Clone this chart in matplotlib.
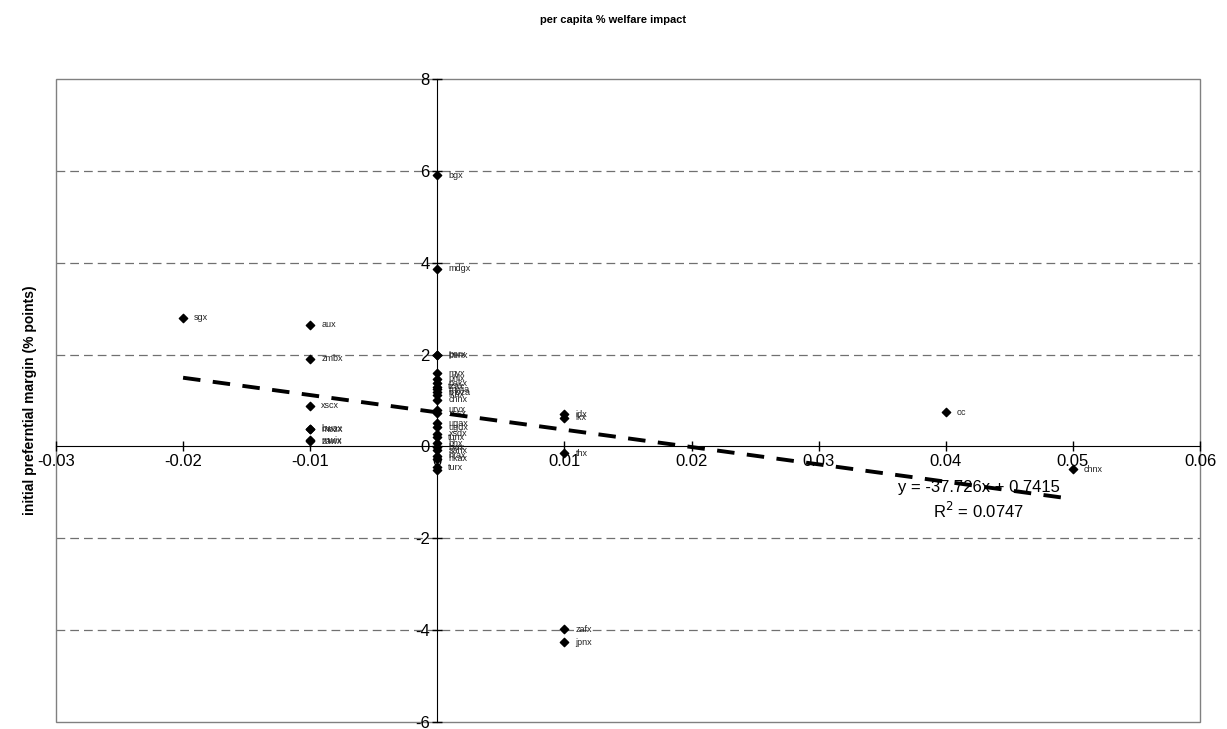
import matplotlib
matplotlib.use("Agg")
import matplotlib.pyplot as plt
from matplotlib.patches import Rectangle

plt.rcParams['font.family'] = ['Liberation Sans', 'DejaVu Sans']
plt.rcParams['axes.unicode_minus'] = False

# per capita % welfare impact (x) vs initial preferential margin (y)
labels = ["sgx", "aux", "zmbx", "xscx", "bwax", "mozx", "mwix", "zawx",
          "bgx", "mdgx", "perx", "benx", "myx", "phlx", "pakx", "tzax",
          "mwia", "moza", "lkax", "chnx", "urvx", "xssx", "ugax", "ugdx",
          "xsdx", "tunx", "bhx", "bwx", "sahx", "hrax", "hkax", "turx", "",
          "idx", "lkx", "thx", "zafx", "jpnx", "oc", "chnx"]
welfare = [-0.02, -0.01, -0.01, -0.01, -0.01, -0.01, -0.01, -0.01,
           0.0, 0.0, 0.0, 0.0, 0.0, 0.0, 0.0, 0.0,
           0.0, 0.0, 0.0, 0.0, 0.0, 0.0, 0.0, 0.0,
           0.0, 0.0, 0.0, 0.0, 0.0, 0.0, 0.0, 0.0, 0.0,
           0.01, 0.01, 0.01, 0.01, 0.01, 0.04, 0.05]
margin = [2.80, 2.65, 1.91, 0.89, 0.39, 0.37, 0.13, 0.11,
          5.91, 3.87, 2.00, 1.99, 1.59, 1.47, 1.38, 1.30,
          1.24, 1.18, 1.13, 1.02, 0.80, 0.72, 0.51, 0.42,
          0.28, 0.20, 0.07, -0.02, -0.08, -0.20, -0.27, -0.45, -0.52,
          0.70, 0.63, -0.15, -3.98, -4.26, 0.74, -0.50]

# linear trend as printed on the chart
slope = -37.726
intercept = 0.7415
r2 = 0.0747
trend_x = [-0.02, 0.05]

fig = plt.figure(figsize=(12.27, 7.29), dpi=100)
ax = fig.add_axes([0.0456, 0.0096, 0.9324, 0.882])
ax.set_xlim(-0.03, 0.06)
ax.set_ylim(-6, 8)

for y in [-4, -2, 2, 4, 6]:
    ax.axhline(y, color="#707070", linestyle=(0, (7, 4)), linewidth=0.9, zorder=0)

ax.scatter(welfare, margin, marker="D", s=18, color="black", zorder=3)
for x, y, t in zip(welfare, margin, labels):
    ax.annotate(t, (x, y), xytext=(8, 0), textcoords="offset points",
                fontsize=6.5, va="center", ha="left", color="#222222")

ty = [slope * x + intercept for x in trend_x]
ax.plot(trend_x, ty, color="black", linestyle=(0, (4.5, 3.2)), linewidth=2.8, zorder=4)

ax.text(0.0426, -0.9, f"y = {slope}x + {intercept}", fontsize=12, ha="center", va="center")
ax.text(0.0426, -1.4, f"R$^2$ = {r2}", fontsize=12, ha="center", va="center")

for s in ["top", "right"]:
    ax.spines[s].set_visible(False)
ax.spines["left"].set_position(("data", 0))
ax.spines["bottom"].set_position(("data", 0))
ax.add_patch(Rectangle((0, 0), 1, 1, transform=ax.transAxes, fill=False,
                       edgecolor="#808080", linewidth=1.0, clip_on=False))

ax.set_xticks([-0.03, -0.02, -0.01, 0, 0.01, 0.02, 0.03, 0.04, 0.05, 0.06])
ax.set_xticklabels(["-0.03", "-0.02", "-0.01", "0", "0.01", "0.02", "0.03",
                    "0.04", "0.05", "0.06"])
ax.set_yticks([-6, -4, -2, 0, 2, 4, 6, 8])
ax.tick_params(axis="both", direction="inout", length=7, width=1.0, labelsize=12, pad=2)

ax.set_ylabel("initial preferntial margin (% points)", fontsize=10, fontweight="bold")
ax.yaxis.set_label_coords(-0.017, 0.5)

fig.text(0.5, 0.973, "per capita % welfare impact", fontsize=8, fontweight="bold",
         ha="center", va="center")

fig.savefig("out.png", dpi=100)
